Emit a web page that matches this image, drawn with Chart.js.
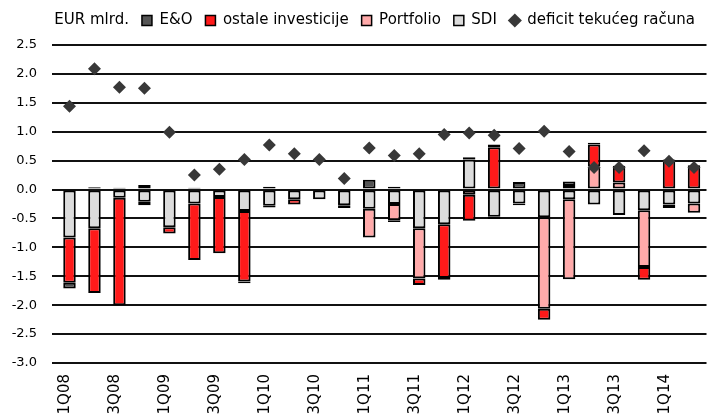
<!DOCTYPE html>
<html>
<head>
<meta charset="utf-8">
<script src="https://cdn.jsdelivr.net/npm/chart.js@4.4.1/dist/chart.umd.min.js"></script>
<style>
  body { margin: 0; background: #fff; }
</style>
</head>
<body>
<canvas id="flows" width="713" height="414"></canvas>
<script>
////////////////////////// data //////////////////////////
var quarters = ['1Q08', '2Q08', '3Q08', '4Q08', '1Q09', '2Q09', '3Q09', '4Q09',
                '1Q10', '2Q10', '3Q10', '4Q10', '1Q11', '2Q11', '3Q11', '4Q11',
                '1Q12', '2Q12', '3Q12', '4Q12', '1Q13', '2Q13', '3Q13', '4Q13',
                '1Q14', '2Q14'];
// only every second quarter gets a label on the axis
var shownQuarters = ['1Q08', '3Q08', '1Q09', '3Q09', '1Q10', '3Q10', '1Q11',
                     '3Q11', '1Q12', '3Q12', '1Q13', '3Q13', '1Q14'];

var sdi       = [-0.83, -0.67, -0.14, -0.21, -0.65, -0.24, -0.13, -0.37, -0.28, -0.17, -0.17, -0.27, -0.33,
                 -0.25, -0.67, -0.60, 0.52, -0.47, -0.24, -0.48, -0.17, -0.26, -0.44, -0.36, -0.26, -0.24];
var portfolio = [null, null, null, null, null, null, null, null, null, null, null, null, -0.50,
                 -0.28, -0.87, null, -0.09, -0.04, null, -1.58, -1.38, 0.40, 0.12, -0.98, null, -0.16];
var ostale    = [-0.78, -1.12, -1.86, 0.08, -0.11, -0.98, -0.97, -1.22, -0.03, -0.09, null, -0.05, 0.02,
                 -0.03, -0.11, -0.93, -0.45, 0.73, -0.03, -0.19, 0.06, 0.38, 0.26, -0.22, 0.52, 0.42];
var eo        = [-0.10, 0.04, 0.03, -0.06, null, 0.03, 0.02, -0.03, 0.05, 0.02, null, 0.02, 0.15,
                 0.05, 0.02, -0.03, 0.04, 0.05, 0.13, null, 0.08, 0.03, 0.03, null, -0.06, null];
var deficit   = [1.44, 2.09, 1.77, 1.75, 0.99, 0.25, 0.35, 0.52, 0.77, 0.62, 0.52, 0.19, 0.72,
                 0.59, 0.62, 0.95, 0.98, 0.94, 0.71, 1.01, 0.66, 0.38, 0.38, 0.67, 0.49, 0.38];

var yTickValues = [-3.0, -2.5, -2.0, -1.5, -1.0, -0.5, 0.0, 0.5, 1.0, 1.5, 2.0, 2.5];

// datasets are listed from the zero line outwards, legend shows them the other way
var legendOrder = [3, 2, 1, 0, 4];

var font = 'DejaVu Sans';

function barSet(label, values, color) {
  return {
    type: 'bar',
    label: label,
    data: values,
    backgroundColor: color,
    borderColor: '#000',
    borderWidth: 2,
    borderSkipped: false,
    barPercentage: 0.5,
    categoryPercentage: 1,
    order: 1
  };
}

// legend box gets a fixed height so the plot starts where the original does
var legendHeight = {
  id: 'legendHeight',
  afterInit: function (chart) {
    var lg = chart.legend;
    var fit = lg.fit;
    lg.fit = function () {
      fit.call(this);
      this.height = 45;
    };
  }
};

var flowsChart = new Chart(document.getElementById('flows').getContext('2d'), {
  type: 'bar',
  plugins: [legendHeight],
  data: {
    labels: quarters,
    datasets: [
      barSet('SDI', sdi, '#dcdcdc'),
      barSet('Portfolio', portfolio, '#ffaaaa'),
      barSet('ostale investicije', ostale, '#ff1a1a'),
      barSet('E&O', eo, '#555555'),
      {
        type: 'line',
        label: 'deficit tekućeg računa',
        data: deficit,
        stack: 'deficit',
        showLine: false,
        pointStyle: 'rectRot',
        pointRadius: 6.5,
        pointHoverRadius: 6.5,
        pointBackgroundColor: '#383838',
        pointBorderWidth: 0,
        order: 0
      }
    ]
  },
  options: {
    responsive: false,
    animation: false,
    layout: {
      padding: { left: 9, right: 5, top: 0, bottom: 0 }
    },
    plugins: {
      tooltip: { enabled: false },
      legend: {
        position: 'top',
        align: 'end',
        labels: {
          usePointStyle: true,
          boxWidth: 10,
          boxHeight: 10,
          padding: 13,
          color: '#000',
          font: { family: font, size: 15 },
          generateLabels: function (chart) {
            var ds = chart.data.datasets;
            // the unit goes in front of the legend, without a box
            var items = [{
              text: 'EUR mlrd.',
              fillStyle: 'rgba(0,0,0,0)',
              strokeStyle: 'rgba(0,0,0,0)',
              lineWidth: 0,
              pointStyle: 'rect',
              fontColor: '#000',
              hidden: false
            }];
            legendOrder.forEach(function (i) {
              var isLine = ds[i].type === 'line';
              var c = isLine ? ds[i].pointBackgroundColor : ds[i].backgroundColor;
              items.push({
                text: ds[i].label,
                fillStyle: c,
                strokeStyle: isLine ? c : '#000',
                lineWidth: isLine ? 0 : 1.5,
                pointStyle: isLine ? 'rectRot' : 'rect',
                fontColor: '#000',
                datasetIndex: i,
                hidden: false
              });
            });
            return items;
          }
        }
      }
    },
    scales: {
      x: {
        stacked: true,
        grid: { display: false, drawTicks: false },
        border: { display: false },
        ticks: {
          autoSkip: false,
          minRotation: 90,
          maxRotation: 90,
          padding: 11,
          labelOffset: -4,
          color: '#000',
          font: { family: font, size: 15 },
          callback: function (value, index) {
            var q = quarters[index];
            return shownQuarters.indexOf(q) >= 0 ? q : '';
          }
        },
        afterFit: function (scale) {
          // labels run off the bottom edge like in the original
          scale.height = 51;
          scale.paddingLeft = 0;
          scale.paddingRight = 0;
        }
      },
      y: {
        stacked: true,
        min: yTickValues[0],
        max: yTickValues[yTickValues.length - 1],
        grid: { display: true, color: '#111111', lineWidth: 2, tickLength: 5 },
        border: { display: false },
        ticks: {
          stepSize: yTickValues[1] - yTickValues[0],
          padding: 15,
          color: '#000',
          font: { family: font, size: 13 },
          callback: function (value) { return Number(value).toFixed(1); }
        },
        afterFit: function (scale) {
          scale.width = 48;
        }
      }
    }
  }
});
</script>
</body>
</html>
